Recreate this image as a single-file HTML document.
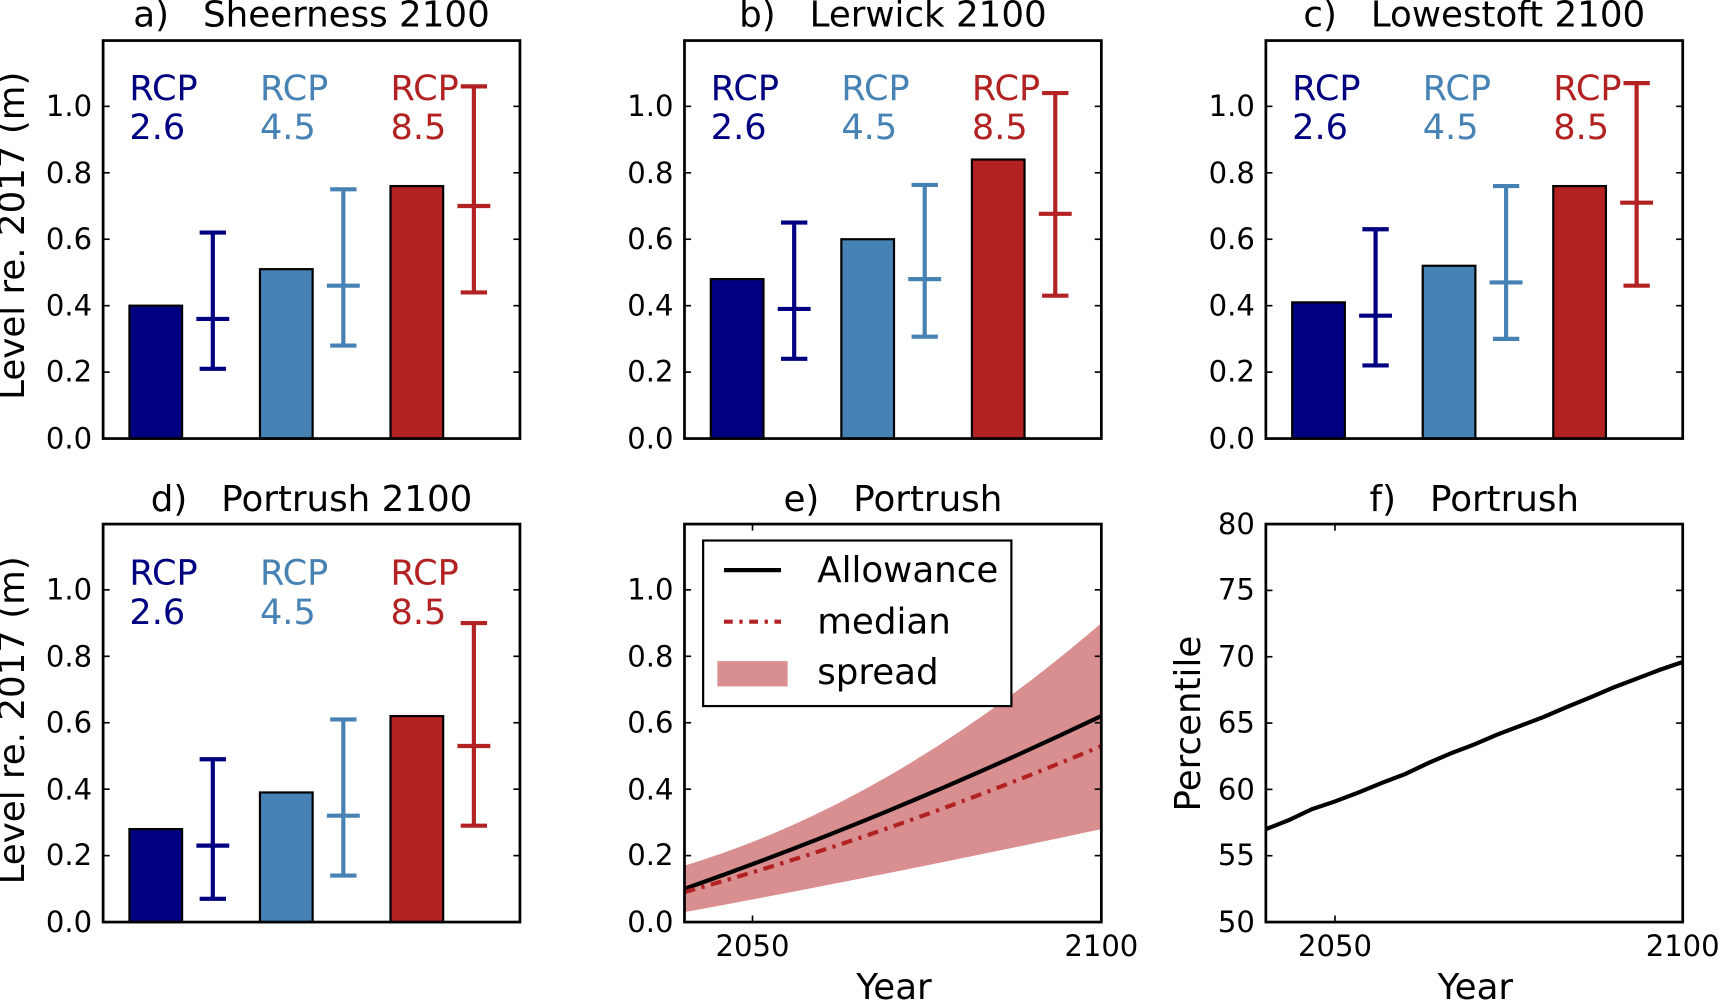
<!DOCTYPE html>
<html><head><meta charset="utf-8"><style>
html,body{margin:0;padding:0;background:#fff;}
svg{display:block;}
text{font-family:"DejaVu Sans","Liberation Sans",sans-serif;white-space:pre;}
.t{font-size:26.5px;fill:#000;}
.ti{font-size:32.5px;fill:#000;}
.r{font-size:32px;}
</style></head><body>
<svg width="1720" height="1001" viewBox="0 0 1568 913" preserveAspectRatio="none" xmlns="http://www.w3.org/2000/svg" xml:space="preserve">
<rect width="1568" height="913" fill="#fff"/>

<g>
<text class="ti" x="284" y="24" text-anchor="middle">a)   Sheerness 2100</text>
<rect x="118" y="278.8" width="48" height="121.2" fill="#000080" stroke="#000" stroke-width="2"/>
<rect x="237" y="245.5" width="48" height="154.5" fill="#4682b4" stroke="#000" stroke-width="2"/>
<rect x="356" y="169.7" width="48" height="230.3" fill="#b22222" stroke="#000" stroke-width="2"/>
<g stroke="#000080" stroke-width="3.8"><line x1="194" y1="336.4" x2="194" y2="212.1"/><line x1="182" y1="336.4" x2="206" y2="336.4"/><line x1="182" y1="212.1" x2="206" y2="212.1"/><line x1="179" y1="290.9" x2="209" y2="290.9"/></g>
<g stroke="#4682b4" stroke-width="3.8"><line x1="313" y1="315.2" x2="313" y2="172.7"/><line x1="301" y1="315.2" x2="325" y2="315.2"/><line x1="301" y1="172.7" x2="325" y2="172.7"/><line x1="298" y1="260.6" x2="328" y2="260.6"/></g>
<g stroke="#b22222" stroke-width="3.8"><line x1="432" y1="266.7" x2="432" y2="78.8"/><line x1="420" y1="266.7" x2="444" y2="266.7"/><line x1="420" y1="78.8" x2="444" y2="78.8"/><line x1="417" y1="187.9" x2="447" y2="187.9"/></g>
<text class="r" x="118" y="91" fill="#000080">RCP</text><text class="r" x="118" y="127" fill="#000080">2.6</text>
<text class="r" x="237" y="91" fill="#4682b4">RCP</text><text class="r" x="237" y="127" fill="#4682b4">4.5</text>
<text class="r" x="356" y="91" fill="#b22222">RCP</text><text class="r" x="356" y="127" fill="#b22222">8.5</text>
<g stroke="#000" stroke-width="1.5"><line x1="94" y1="339.4" x2="100" y2="339.4"/><line x1="94" y1="278.8" x2="100" y2="278.8"/><line x1="94" y1="218.2" x2="100" y2="218.2"/><line x1="94" y1="157.6" x2="100" y2="157.6"/><line x1="94" y1="97" x2="100" y2="97"/>
<line x1="468" y1="339.4" x2="474" y2="339.4"/><line x1="468" y1="278.8" x2="474" y2="278.8"/><line x1="468" y1="218.2" x2="474" y2="218.2"/><line x1="468" y1="157.6" x2="474" y2="157.6"/><line x1="468" y1="97" x2="474" y2="97"/></g>
<rect x="94" y="37" width="380" height="363" fill="none" stroke="#000" stroke-width="2.5"/>
<g class="t" text-anchor="end"><text x="84" y="409">0.0</text><text x="84" y="348">0.2</text><text x="84" y="288">0.4</text><text x="84" y="227">0.6</text><text x="84" y="167">0.8</text><text x="84" y="106">1.0</text></g>
<text class="ti" transform="translate(22,215) rotate(-90)" text-anchor="middle">Level re. 2017 (m)</text>
</g>

<g>
<text class="ti" x="814" y="24" text-anchor="middle">b)   Lerwick 2100</text>
<rect x="648" y="254.6" width="48" height="145.4" fill="#000080" stroke="#000" stroke-width="2"/>
<rect x="767" y="218.2" width="48" height="181.8" fill="#4682b4" stroke="#000" stroke-width="2"/>
<rect x="886" y="145.5" width="48" height="254.5" fill="#b22222" stroke="#000" stroke-width="2"/>
<g stroke="#000080" stroke-width="3.8"><line x1="724" y1="327.3" x2="724" y2="203"/><line x1="712" y1="327.3" x2="736" y2="327.3"/><line x1="712" y1="203" x2="736" y2="203"/><line x1="709" y1="281.8" x2="739" y2="281.8"/></g>
<g stroke="#4682b4" stroke-width="3.8"><line x1="843" y1="307.1" x2="843" y2="168.7"/><line x1="831" y1="307.1" x2="855" y2="307.1"/><line x1="831" y1="168.7" x2="855" y2="168.7"/><line x1="828" y1="254.6" x2="858" y2="254.6"/></g>
<g stroke="#b22222" stroke-width="3.8"><line x1="962" y1="269.7" x2="962" y2="84.9"/><line x1="950" y1="269.7" x2="974" y2="269.7"/><line x1="950" y1="84.9" x2="974" y2="84.9"/><line x1="947" y1="195" x2="977" y2="195"/></g>
<text class="r" x="648" y="91" fill="#000080">RCP</text><text class="r" x="648" y="127" fill="#000080">2.6</text>
<text class="r" x="767" y="91" fill="#4682b4">RCP</text><text class="r" x="767" y="127" fill="#4682b4">4.5</text>
<text class="r" x="886" y="91" fill="#b22222">RCP</text><text class="r" x="886" y="127" fill="#b22222">8.5</text>
<g stroke="#000" stroke-width="1.5"><line x1="624" y1="339.4" x2="630" y2="339.4"/><line x1="624" y1="278.8" x2="630" y2="278.8"/><line x1="624" y1="218.2" x2="630" y2="218.2"/><line x1="624" y1="157.6" x2="630" y2="157.6"/><line x1="624" y1="97" x2="630" y2="97"/>
<line x1="998" y1="339.4" x2="1004" y2="339.4"/><line x1="998" y1="278.8" x2="1004" y2="278.8"/><line x1="998" y1="218.2" x2="1004" y2="218.2"/><line x1="998" y1="157.6" x2="1004" y2="157.6"/><line x1="998" y1="97" x2="1004" y2="97"/></g>
<rect x="624" y="37" width="380" height="363" fill="none" stroke="#000" stroke-width="2.5"/>
<g class="t" text-anchor="end"><text x="614" y="409">0.0</text><text x="614" y="348">0.2</text><text x="614" y="288">0.4</text><text x="614" y="227">0.6</text><text x="614" y="167">0.8</text><text x="614" y="106">1.0</text></g>
</g>

<g>
<text class="ti" x="1344" y="24" text-anchor="middle">c)   Lowestoft 2100</text>
<rect x="1178" y="275.8" width="48" height="124.2" fill="#000080" stroke="#000" stroke-width="2"/>
<rect x="1297" y="242.4" width="48" height="157.6" fill="#4682b4" stroke="#000" stroke-width="2"/>
<rect x="1416" y="169.7" width="48" height="230.3" fill="#b22222" stroke="#000" stroke-width="2"/>
<g stroke="#000080" stroke-width="3.8"><line x1="1254" y1="333.3" x2="1254" y2="209.1"/><line x1="1242" y1="333.3" x2="1266" y2="333.3"/><line x1="1242" y1="209.1" x2="1266" y2="209.1"/><line x1="1239" y1="287.9" x2="1269" y2="287.9"/></g>
<g stroke="#4682b4" stroke-width="3.8"><line x1="1373" y1="309.1" x2="1373" y2="169.7"/><line x1="1361" y1="309.1" x2="1385" y2="309.1"/><line x1="1361" y1="169.7" x2="1385" y2="169.7"/><line x1="1358" y1="257.6" x2="1388" y2="257.6"/></g>
<g stroke="#b22222" stroke-width="3.8"><line x1="1492" y1="260.6" x2="1492" y2="75.8"/><line x1="1480" y1="260.6" x2="1504" y2="260.6"/><line x1="1480" y1="75.8" x2="1504" y2="75.8"/><line x1="1477" y1="184.9" x2="1507" y2="184.9"/></g>
<text class="r" x="1178" y="91" fill="#000080">RCP</text><text class="r" x="1178" y="127" fill="#000080">2.6</text>
<text class="r" x="1297" y="91" fill="#4682b4">RCP</text><text class="r" x="1297" y="127" fill="#4682b4">4.5</text>
<text class="r" x="1416" y="91" fill="#b22222">RCP</text><text class="r" x="1416" y="127" fill="#b22222">8.5</text>
<g stroke="#000" stroke-width="1.5"><line x1="1154" y1="339.4" x2="1160" y2="339.4"/><line x1="1154" y1="278.8" x2="1160" y2="278.8"/><line x1="1154" y1="218.2" x2="1160" y2="218.2"/><line x1="1154" y1="157.6" x2="1160" y2="157.6"/><line x1="1154" y1="97" x2="1160" y2="97"/>
<line x1="1528" y1="339.4" x2="1534" y2="339.4"/><line x1="1528" y1="278.8" x2="1534" y2="278.8"/><line x1="1528" y1="218.2" x2="1534" y2="218.2"/><line x1="1528" y1="157.6" x2="1534" y2="157.6"/><line x1="1528" y1="97" x2="1534" y2="97"/></g>
<rect x="1154" y="37" width="380" height="363" fill="none" stroke="#000" stroke-width="2.5"/>
<g class="t" text-anchor="end"><text x="1144" y="409">0.0</text><text x="1144" y="348">0.2</text><text x="1144" y="288">0.4</text><text x="1144" y="227">0.6</text><text x="1144" y="167">0.8</text><text x="1144" y="106">1.0</text></g>
</g>

<g>
<text class="ti" x="284" y="466" text-anchor="middle">d)   Portrush 2100</text>
<rect x="118" y="756.2" width="48" height="84.8" fill="#000080" stroke="#000" stroke-width="2"/>
<rect x="237" y="722.8" width="48" height="118.2" fill="#4682b4" stroke="#000" stroke-width="2"/>
<rect x="356" y="653.1" width="48" height="187.9" fill="#b22222" stroke="#000" stroke-width="2"/>
<g stroke="#000080" stroke-width="3.8"><line x1="194" y1="819.8" x2="194" y2="692.5"/><line x1="182" y1="819.8" x2="206" y2="819.8"/><line x1="182" y1="692.5" x2="206" y2="692.5"/><line x1="179" y1="771.3" x2="209" y2="771.3"/></g>
<g stroke="#4682b4" stroke-width="3.8"><line x1="313" y1="798.6" x2="313" y2="656.2"/><line x1="301" y1="798.6" x2="325" y2="798.6"/><line x1="301" y1="656.2" x2="325" y2="656.2"/><line x1="298" y1="744" x2="328" y2="744"/></g>
<g stroke="#b22222" stroke-width="3.8"><line x1="432" y1="753.1" x2="432" y2="568.3"/><line x1="420" y1="753.1" x2="444" y2="753.1"/><line x1="420" y1="568.3" x2="444" y2="568.3"/><line x1="417" y1="680.4" x2="447" y2="680.4"/></g>
<text class="r" x="118" y="533" fill="#000080">RCP</text><text class="r" x="118" y="569" fill="#000080">2.6</text>
<text class="r" x="237" y="533" fill="#4682b4">RCP</text><text class="r" x="237" y="569" fill="#4682b4">4.5</text>
<text class="r" x="356" y="533" fill="#b22222">RCP</text><text class="r" x="356" y="569" fill="#b22222">8.5</text>
<g stroke="#000" stroke-width="1.5"><line x1="94" y1="780.4" x2="100" y2="780.4"/><line x1="94" y1="719.8" x2="100" y2="719.8"/><line x1="94" y1="659.2" x2="100" y2="659.2"/><line x1="94" y1="598.6" x2="100" y2="598.6"/><line x1="94" y1="538" x2="100" y2="538"/>
<line x1="468" y1="780.4" x2="474" y2="780.4"/><line x1="468" y1="719.8" x2="474" y2="719.8"/><line x1="468" y1="659.2" x2="474" y2="659.2"/><line x1="468" y1="598.6" x2="474" y2="598.6"/><line x1="468" y1="538" x2="474" y2="538"/></g>
<rect x="94" y="478" width="380" height="363" fill="none" stroke="#000" stroke-width="2.5"/>
<g class="t" text-anchor="end"><text x="84" y="850">0.0</text><text x="84" y="789">0.2</text><text x="84" y="729">0.4</text><text x="84" y="668">0.6</text><text x="84" y="608">0.8</text><text x="84" y="547">1.0</text></g>
<text class="ti" transform="translate(22,657) rotate(-90)" text-anchor="middle">Level re. 2017 (m)</text>
</g>

<g>
<text class="ti" x="814" y="466" text-anchor="middle">e)   Portrush</text>
<path d="M624,789.5 Q814,732 1004,568.3 L1004,756.2 Q814,797 624,831.9 Z" fill="#d98f90"/>
<path d="M624,810.7 Q814,743.7 1004,653.1" fill="none" stroke="#000" stroke-width="3.8"/>
<path d="M624,813.7 Q814,760.4 1004,680.4" fill="none" stroke="#b22222" stroke-width="3.8" stroke-dasharray="10,6,3,6"/>
<g stroke="#000" stroke-width="1.5"><line x1="624" y1="780.4" x2="630" y2="780.4"/><line x1="624" y1="719.8" x2="630" y2="719.8"/><line x1="624" y1="659.2" x2="630" y2="659.2"/><line x1="624" y1="598.6" x2="630" y2="598.6"/><line x1="624" y1="538" x2="630" y2="538"/>
<line x1="998" y1="780.4" x2="1004" y2="780.4"/><line x1="998" y1="719.8" x2="1004" y2="719.8"/><line x1="998" y1="659.2" x2="1004" y2="659.2"/><line x1="998" y1="598.6" x2="1004" y2="598.6"/><line x1="998" y1="538" x2="1004" y2="538"/>
<line x1="686" y1="841" x2="686" y2="835"/><line x1="686" y1="478" x2="686" y2="484"/></g>
<rect x="624" y="478" width="380" height="363" fill="none" stroke="#000" stroke-width="2.5"/>
<rect x="641" y="493" width="281" height="151" fill="#fff" stroke="#000" stroke-width="2"/>
<line x1="660" y1="520" x2="712" y2="520" stroke="#000" stroke-width="3.8"/>
<line x1="660" y1="567" x2="712" y2="567" stroke="#b22222" stroke-width="3.8" stroke-dasharray="8,6,3,6"/>
<rect x="654" y="603" width="64" height="23" fill="#d98f90"/>
<g class="ti"><text x="745" y="531">Allowance</text><text x="745" y="578">median</text><text x="745" y="624">spread</text></g>
<g class="t" text-anchor="end"><text x="614" y="850">0.0</text><text x="614" y="789">0.2</text><text x="614" y="729">0.4</text><text x="614" y="668">0.6</text><text x="614" y="608">0.8</text><text x="614" y="547">1.0</text></g>
<g class="t" text-anchor="middle"><text x="686" y="872">2050</text><text x="1004" y="872">2100</text></g>
<text class="ti" x="815" y="911" text-anchor="middle">Year</text>
</g>

<g>
<text class="ti" x="1344" y="466" text-anchor="middle">f)   Portrush</text>
<g stroke="#000" stroke-width="1.5"><line x1="1154" y1="780.5" x2="1160" y2="780.5"/><line x1="1154" y1="720" x2="1160" y2="720"/><line x1="1154" y1="659.5" x2="1160" y2="659.5"/><line x1="1154" y1="599" x2="1160" y2="599"/><line x1="1154" y1="538.5" x2="1160" y2="538.5"/>
<line x1="1528" y1="780.5" x2="1534" y2="780.5"/><line x1="1528" y1="720" x2="1534" y2="720"/><line x1="1528" y1="659.5" x2="1534" y2="659.5"/><line x1="1528" y1="599" x2="1534" y2="599"/><line x1="1528" y1="538.5" x2="1534" y2="538.5"/>
<line x1="1217" y1="841" x2="1217" y2="835"/><line x1="1217" y1="478" x2="1217" y2="484"/></g>
<polyline points="1154,756.3 1175,748 1196,738 1217,731 1238,723 1260,714 1281,706 1302,696 1323,687 1344,679 1365,670 1386,662 1407,654 1428,645 1450,636 1471,627 1492,619 1513,611 1534,603.8" fill="none" stroke="#000" stroke-width="3.8"/>
<rect x="1154" y="478" width="380" height="363" fill="none" stroke="#000" stroke-width="2.5"/>
<g class="t" text-anchor="end"><text x="1144" y="850">50</text><text x="1144" y="789">55</text><text x="1144" y="729">60</text><text x="1144" y="668">65</text><text x="1144" y="608">70</text><text x="1144" y="547">75</text><text x="1144" y="487">80</text></g>
<g class="t" text-anchor="middle"><text x="1217" y="872">2050</text><text x="1534" y="872">2100</text></g>
<text class="ti" x="1345" y="911" text-anchor="middle">Year</text>
<text class="ti" transform="translate(1094,660) rotate(-90)" text-anchor="middle">Percentile</text>
</g>
</svg>
</body></html>
